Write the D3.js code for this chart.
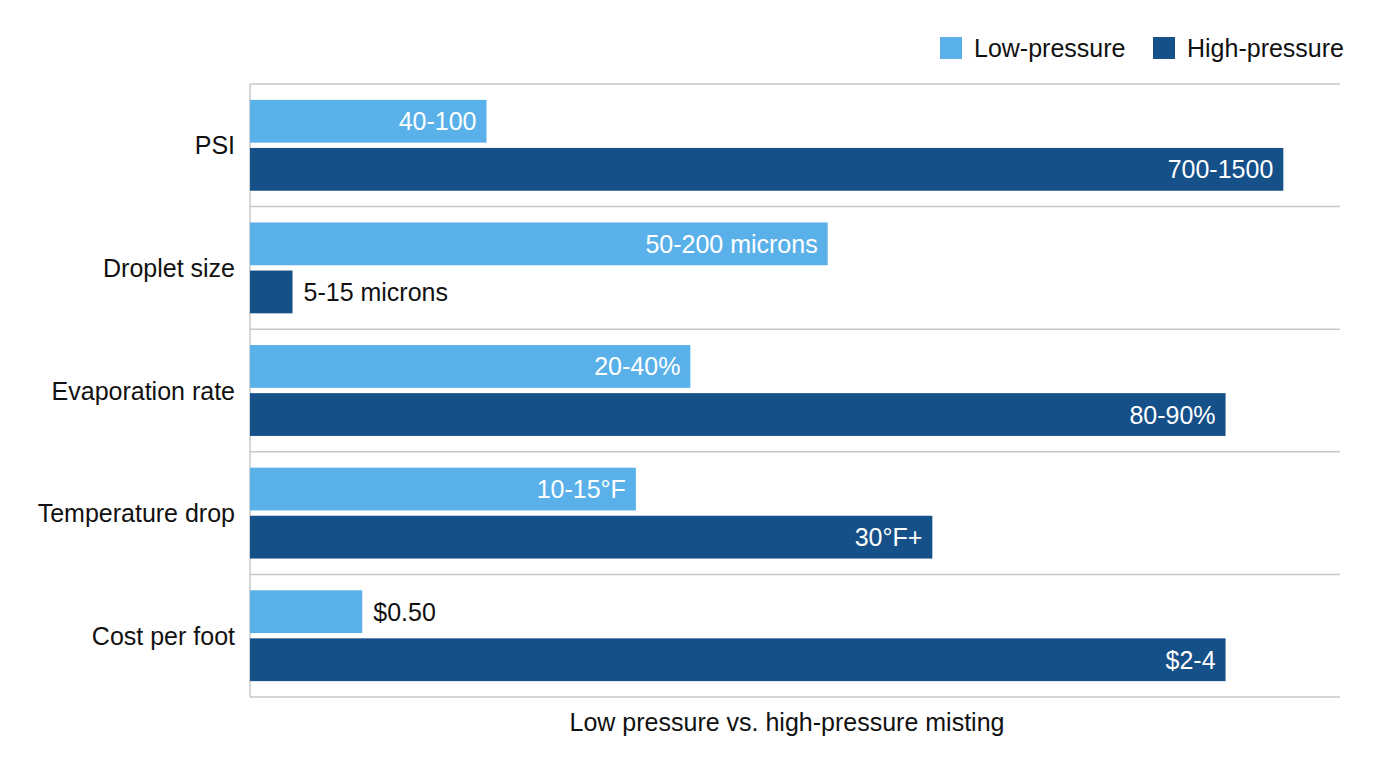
<!DOCTYPE html>
<html>
<head>
<meta charset="utf-8">
<script src="https://cdn.jsdelivr.net/npm/d3@7"></script>
<style>
  body { margin: 0; background: #fff; }
  text { font-family: "Liberation Sans", Arial, sans-serif; }
</style>
</head>
<body>
<script>
var width = 1376,
    height = 768;

// categories and series (relative bar lengths, 0-100)
var categories = ["PSI", "Droplet size", "Evaporation rate", "Temperature drop", "Cost per foot"];
var seriesNames = ["Low-pressure", "High-pressure"];
var lowValues = [21.7, 53.0, 40.4, 35.4, 10.3];
var highValues = [94.8, 3.9, 89.5, 62.6, 89.5];
var lowLabels = ["40-100", "50-200 microns", "20-40%", "10-15°F", "$0.50"];
var highLabels = ["700-1500", "5-15 microns", "80-90%", "30°F+", "$2-4"];
var colors = ["#5ab1ea", "#155089"];
var axisTitle = "Low pressure vs. high-pressure misting";

var margin = {top: 84, right: 36, bottom: 71, left: 250};
var fontSize = "25px";

var svg = d3.select("body").append("svg")
    .attr("width", width)
    .attr("height", height);

var x = d3.scaleLinear()
    .domain([0, 100])
    .range([margin.left, width - margin.right]);

var y = d3.scaleBand()
    .domain(categories)
    .range([margin.top, height - margin.bottom]);

var y1 = d3.scaleBand()
    .domain(seriesNames)
    .range([0, y.bandwidth()])
    .paddingInner(0.11)
    .paddingOuter(0.33);

// gridlines between categories
var bounds = categories.map(function(c) { return y(c); }).concat([height - margin.bottom]);
svg.append("g").selectAll("line")
  .data(bounds)
  .enter().append("line")
  .attr("x1", margin.left)
  .attr("x2", width - margin.right)
  .attr("y1", function(d) { return d; })
  .attr("y2", function(d) { return d; })
  .attr("stroke", "#c8c8c8")
  .attr("stroke-width", 1.5);

svg.append("line")
  .attr("x1", margin.left).attr("x2", margin.left)
  .attr("y1", margin.top).attr("y2", height - margin.bottom)
  .attr("stroke", "#c8c8c8")
  .attr("stroke-width", 1.5);

// build rows for bars
var rows = [];
categories.forEach(function(c, i) {
  rows.push({cat: c, series: seriesNames[0], value: lowValues[i], label: lowLabels[i], color: colors[0]});
  rows.push({cat: c, series: seriesNames[1], value: highValues[i], label: highLabels[i], color: colors[1]});
});

var bar = svg.append("g").selectAll("g")
  .data(rows)
  .enter().append("g");

bar.append("rect")
  .attr("x", x(0))
  .attr("y", function(d) { return y(d.cat) + y1(d.series); })
  .attr("width", function(d) { return x(d.value) - x(0); })
  .attr("height", y1.bandwidth())
  .attr("fill", function(d) { return d.color; });

bar.append("text")
  .text(function(d) { return d.label; })
  .attr("y", function(d) { return y(d.cat) + y1(d.series) + y1.bandwidth() / 2; })
  .attr("dy", "0.36em")
  .style("font-size", fontSize)
  .each(function(d) {
    var t = d3.select(this);
    var w = this.getComputedTextLength();
    var barW = x(d.value) - x(0);
    // short bars get their label outside
    if (w + 60 < barW) {
      t.attr("x", x(d.value) - 10).attr("text-anchor", "end").attr("fill", "#fff");
    } else {
      t.attr("x", x(d.value) + 11).attr("text-anchor", "start").attr("fill", "#111");
    }
  });

// category labels
svg.append("g").selectAll("text")
  .data(categories)
  .enter().append("text")
  .text(function(d) { return d; })
  .attr("x", margin.left - 15)
  .attr("y", function(d) { return y(d) + y.bandwidth() / 2; })
  .attr("dy", "0.36em")
  .attr("text-anchor", "end")
  .attr("fill", "#111")
  .style("font-size", fontSize);

// axis title
svg.append("text")
  .text(axisTitle)
  .attr("x", 787)
  .attr("y", 731)
  .attr("text-anchor", "middle")
  .attr("fill", "#111")
  .style("font-size", fontSize);

// legend
var legendX = [940, 1153];
var legend = svg.append("g").selectAll("g")
  .data(seriesNames)
  .enter().append("g")
  .attr("transform", function(d, i) { return "translate(" + legendX[i] + ",37)"; });

legend.append("rect")
  .attr("width", 22)
  .attr("height", 22)
  .attr("fill", function(d, i) { return colors[i]; });

legend.append("text")
  .text(function(d) { return d; })
  .attr("x", 34)
  .attr("y", 11)
  .attr("dy", "0.36em")
  .attr("fill", "#111")
  .style("font-size", fontSize);
</script>
</body>
</html>
